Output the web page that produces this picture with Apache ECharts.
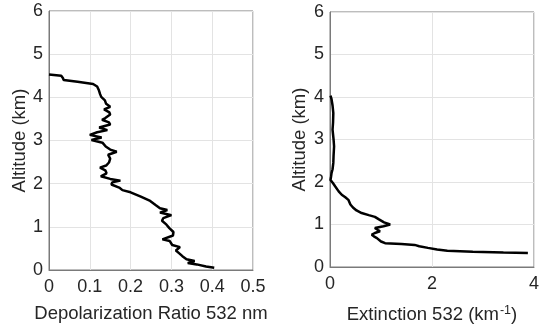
<!DOCTYPE html>
<html><head><meta charset="utf-8">
<script src="https://cdn.jsdelivr.net/npm/echarts@6/dist/echarts.min.js"></script>
<style>html,body{margin:0;padding:0;background:#fff}#c{width:550px;height:330px}</style>
</head><body><div id="c"></div>
<script>
// Left panel: depolarization ratio profile
const depolAlt = [4.53,4.50,4.45,4.40,4.36,4.31,4.25,4.17,4.08,4.01,3.93,3.85,3.78,3.72,3.65,3.60,3.52,3.48,3.42,3.37,3.30,3.24,3.19,3.13,3.07,3.01,2.95,2.86,2.79,2.74,2.67,2.58,2.49,2.42,2.37,2.31,2.24,2.17,2.11,2.07,2.03,1.98,1.91,1.85,1.80,1.70,1.60,1.50,1.43,1.39,1.33,1.27,1.20,1.14,1.05,0.97,0.88,0.80,0.71,0.67,0.58,0.53,0.45,0.38,0.32,0.25,0.21,0.16,0.13,0.08,0.05];
const depolValues = [0.000,0.030,0.034,0.036,0.070,0.108,0.118,0.122,0.125,0.128,0.137,0.140,0.150,0.135,0.148,0.150,0.138,0.130,0.147,0.150,0.123,0.143,0.118,0.100,0.129,0.104,0.131,0.139,0.150,0.166,0.145,0.150,0.147,0.140,0.125,0.138,0.141,0.127,0.150,0.175,0.155,0.153,0.172,0.180,0.200,0.225,0.248,0.262,0.272,0.290,0.272,0.300,0.280,0.277,0.288,0.295,0.305,0.304,0.278,0.296,0.302,0.321,0.311,0.320,0.327,0.337,0.357,0.340,0.362,0.385,0.405];
// Right panel: extinction profile
const extAlt = [4.03,3.95,3.80,3.62,3.40,3.23,3.00,2.84,2.62,2.45,2.30,2.21,2.12,2.05,1.97,1.90,1.78,1.70,1.64,1.58,1.47,1.40,1.33,1.27,1.22,1.18,1.12,1.05,1.00,0.96,0.92,0.87,0.84,0.80,0.76,0.72,0.68,0.60,0.56,0.54,0.52,0.49,0.45,0.41,0.38,0.36,0.34,0.33];
const extValues = [0.01,0.03,0.05,0.065,0.06,0.05,0.07,0.08,0.07,0.065,0.05,0.03,0.02,0.01,0.06,0.10,0.17,0.23,0.30,0.36,0.40,0.45,0.52,0.62,0.76,0.88,0.96,1.06,1.18,1.05,0.88,0.94,0.98,0.88,0.82,0.86,0.92,1.00,1.08,1.40,1.66,1.75,1.92,2.10,2.30,2.80,3.40,3.88];
const altTicks = [0,1,2,3,4,5,6];

const FONT = '"Liberation Sans", Arial, sans-serif';
const TXT = '#262626';
const AX = '#7a7a7a';
const GRID = '#e3e3e3';

function xAx(idx, min, max, interval, name, gap) {
  return {
    gridIndex: idx, type: 'value', min: min, max: max, interval: interval,
    name: name, nameLocation: 'middle', nameGap: gap,
    nameTextStyle: {fontFamily: FONT, fontSize: 18.5, color: TXT,
      rich: {sup: {fontFamily: FONT, fontSize: 12.5, color: TXT, verticalAlign: 'top', padding: [0,0,9,1]}}},
    axisLine: {show: true, lineStyle: {color: AX, width: 1}},
    axisTick: {show: false},
    axisLabel: {fontFamily: FONT, fontSize: 18, color: TXT, margin: 8},
    splitLine: {show: true, lineStyle: {color: GRID, width: 1}}
  };
}
function yAx(idx, gap) {
  return {
    gridIndex: idx, type: 'value', min: altTicks[0], max: altTicks[altTicks.length-1], interval: 1,
    name: 'Altitude (km)', nameLocation: 'middle', nameGap: gap,
    nameTextStyle: {fontFamily: FONT, fontSize: 18.5, color: TXT},
    axisLine: {show: true, lineStyle: {color: AX, width: 1}},
    axisTick: {show: false},
    axisLabel: {fontFamily: FONT, fontSize: 18, color: TXT, margin: 6},
    splitLine: {show: true, lineStyle: {color: GRID, width: 1}}
  };
}

const chart = echarts.init(document.getElementById('c'), null, {renderer: 'canvas'});
chart.setOption({
  animation: false,
  backgroundColor: '#fff',
  grid: [
    {left: 49, top: 11, width: 204, height: 259, show: true, borderColor: AX, borderWidth: 1, containLabel: false},
    {left: 330, top: 12, width: 204, height: 255, show: true, borderColor: AX, borderWidth: 1, containLabel: false}
  ],
  xAxis: [
    xAx(0, 0, 0.5, 0.1, 'Depolarization Ratio 532 nm', 34),
    xAx(1, 0, 4, 2, 'Extinction 532 (km{sup|-1})', 37)
  ],
  yAxis: [yAx(0, 17), yAx(1, 21)],
  series: [
    {type: 'line', xAxisIndex: 0, yAxisIndex: 0, showSymbol: false, symbol: 'none',
     lineStyle: {color: '#000', width: 2.5}, data: depolValues.map((v, i) => [v, depolAlt[i]])},
    {type: 'line', xAxisIndex: 1, yAxisIndex: 1, showSymbol: false, symbol: 'none',
     lineStyle: {color: '#000', width: 2.5}, data: extValues.map((v, i) => [v, extAlt[i]])}
  ]
});
</script></body></html>
